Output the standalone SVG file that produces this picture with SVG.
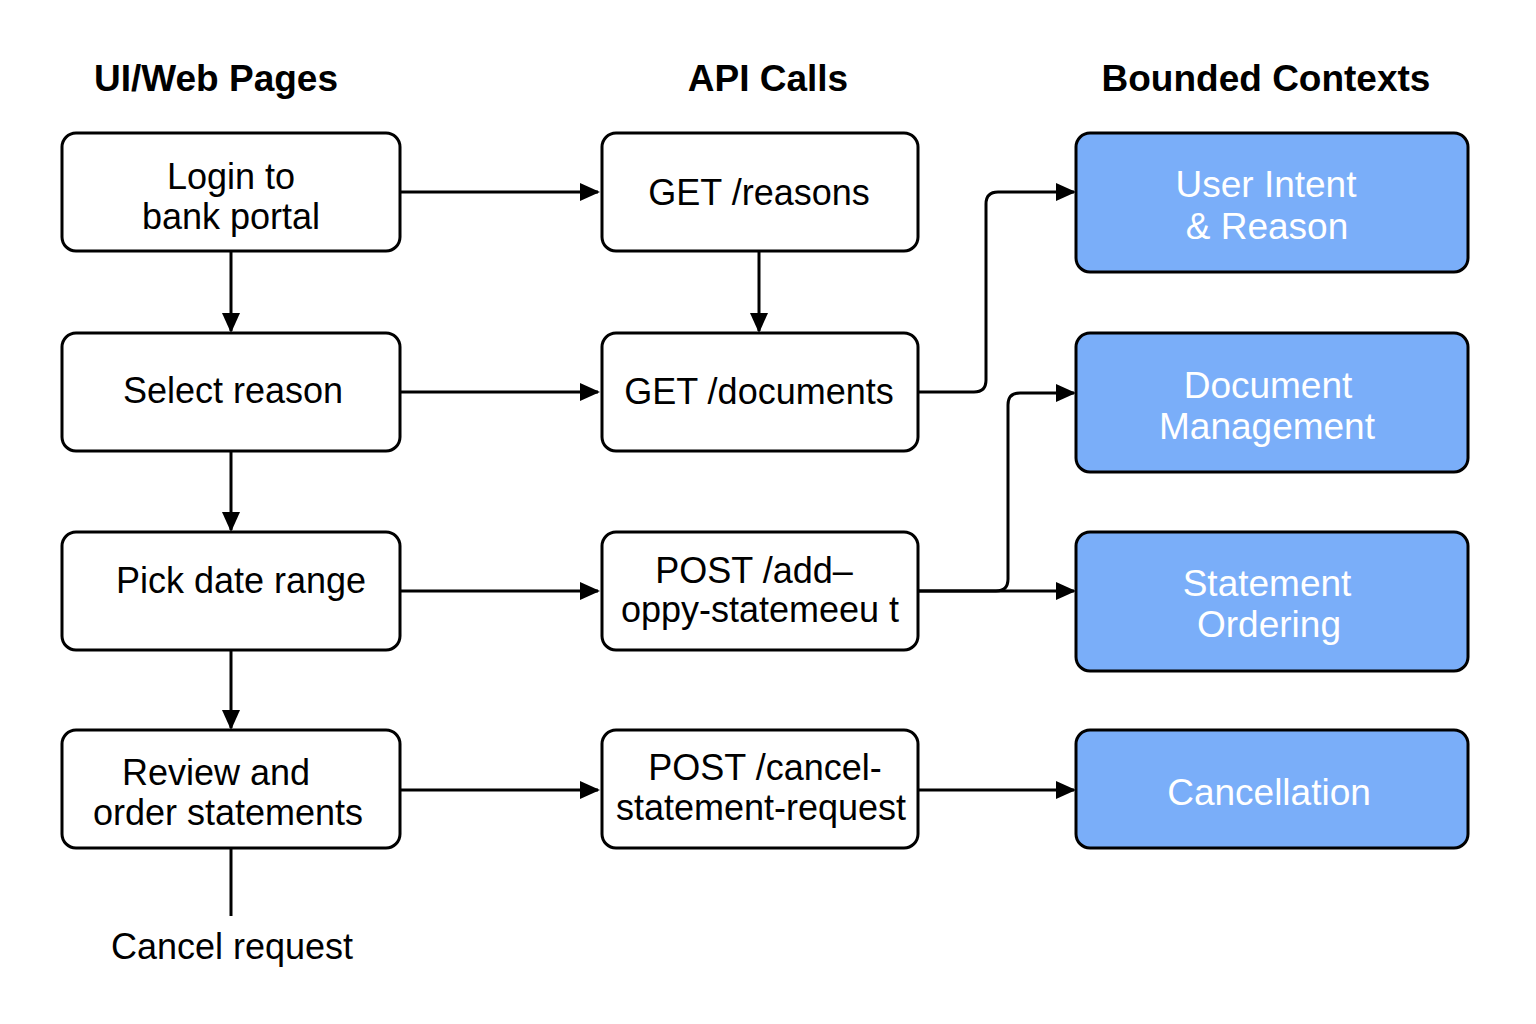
<svg xmlns="http://www.w3.org/2000/svg" width="1536" height="1024" viewBox="0 0 1536 1024">
<style>
.bg{fill:#ffffff}
.box{fill:#ffffff;stroke:#000;stroke-width:3}
.ctx{fill:#7aaef9;stroke:#000;stroke-width:3}
.t{font-family:"Liberation Sans",Arial,sans-serif;font-size:36px;fill:#000;text-anchor:middle}
.w{font-family:"Liberation Sans",Arial,sans-serif;font-size:37px;fill:#fff;text-anchor:middle}
.h{font-family:"Liberation Sans",Arial,sans-serif;font-size:37px;font-weight:bold;fill:#000;text-anchor:middle}
.c{fill:none;stroke:#000;stroke-width:3}
</style>
<defs>
<marker id="ah" markerUnits="userSpaceOnUse" markerWidth="20" markerHeight="20" viewBox="0 0 20 20" refX="18" refY="10" orient="auto">
<path d="M0,1 L20,10 L0,19 Z" fill="#000"/>
</marker>
</defs>
<rect class="bg" x="0" y="0" width="1536" height="1024"/>
<g id="headers">
<text class="h" x="216" y="91">UI/Web Pages</text>
<text class="h" x="768" y="91">API Calls</text>
<text class="h" x="1266" y="91">Bounded Contexts</text>
</g>
<g id="connectors">
<path class="c" d="M400 192 H598" marker-end="url(#ah)"/>
<path class="c" d="M400 392 H598" marker-end="url(#ah)"/>
<path class="c" d="M400 591 H598" marker-end="url(#ah)"/>
<path class="c" d="M400 790 H598" marker-end="url(#ah)"/>
<path class="c" d="M231 251 V331" marker-end="url(#ah)"/>
<path class="c" d="M231 451 V530" marker-end="url(#ah)"/>
<path class="c" d="M231 650 V728" marker-end="url(#ah)"/>
<path class="c" d="M231 848 V916"/>
<path class="c" d="M759 251 V331" marker-end="url(#ah)"/>
<path class="c" d="M918 392 H974 Q986 392 986 380 V204 Q986 192 998 192 H1074" marker-end="url(#ah)"/>
<path class="c" d="M918 591 H996 Q1008 591 1008 579 V405 Q1008 393 1020 393 H1074" marker-end="url(#ah)"/>
<path class="c" d="M918 591 H1074" marker-end="url(#ah)"/>
<path class="c" d="M918 790 H1074" marker-end="url(#ah)"/>
</g>
<g id="login">
<rect class="box" x="62" y="133" width="338" height="118" rx="14"/>
<text class="t" x="231" y="189">Login to</text>
<text class="t" x="231" y="229">bank portal</text>
</g>
<g id="select-reason">
<rect class="box" x="62" y="333" width="338" height="118" rx="14"/>
<text class="t" x="233" y="403">Select reason</text>
</g>
<g id="pick-date">
<rect class="box" x="62" y="532" width="338" height="118" rx="14"/>
<text class="t" x="241" y="593">Pick date range</text>
</g>
<g id="review-order">
<rect class="box" x="62" y="730" width="338" height="118" rx="14"/>
<text class="t" x="216" y="785">Review and</text>
<text class="t" x="228" y="825">order statements</text>
</g>
<g id="cancel-request">
<text class="t" x="232" y="959">Cancel request</text>
</g>
<g id="get-reasons">
<rect class="box" x="602" y="133" width="316" height="118" rx="14"/>
<text class="t" x="759" y="205">GET /reasons</text>
</g>
<g id="get-documents">
<rect class="box" x="602" y="333" width="316" height="118" rx="14"/>
<text class="t" x="759" y="404">GET /documents</text>
</g>
<g id="post-add">
<rect class="box" x="602" y="532" width="316" height="118" rx="14"/>
<text class="t" x="754" y="583">POST /add–</text>
<text class="t" x="760" y="622">oppy-statemeeu t</text>
</g>
<g id="post-cancel">
<rect class="box" x="602" y="730" width="316" height="118" rx="14"/>
<text class="t" x="765" y="780">POST /cancel-</text>
<text class="t" x="761" y="820">statement-request</text>
</g>
<g id="user-intent">
<rect class="ctx" x="1076" y="133" width="392" height="139" rx="14"/>
<text class="w" x="1266" y="197">User Intent</text>
<text class="w" x="1267" y="239">&amp; Reason</text>
</g>
<g id="document-management">
<rect class="ctx" x="1076" y="333" width="392" height="139" rx="14"/>
<text class="w" x="1268" y="398">Document</text>
<text class="w" x="1267" y="439">Management</text>
</g>
<g id="statement-ordering">
<rect class="ctx" x="1076" y="532" width="392" height="139" rx="14"/>
<text class="w" x="1267" y="596">Statement</text>
<text class="w" x="1269" y="637">Ordering</text>
</g>
<g id="cancellation">
<rect class="ctx" x="1076" y="730" width="392" height="118" rx="14"/>
<text class="w" x="1269" y="805">Cancellation</text>
</g>
</svg>
